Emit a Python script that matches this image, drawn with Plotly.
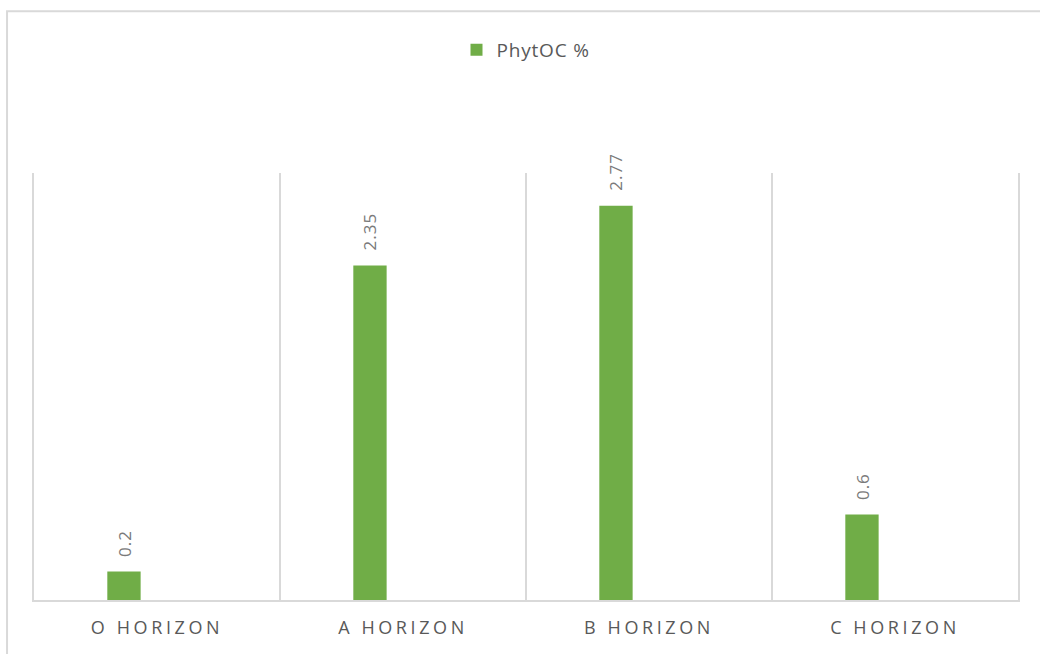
import plotly.graph_objects as go

# Phytolith-occluded carbon by soil horizon
horizons = ["O HORIZON", "A HORIZON", "B HORIZON", "C HORIZON"]
phytoc = [0.2, 2.35, 2.77, 0.6]
series_name = "PhytOC %"

bar_color = "#70ad47"
grid_color = "#d9d9d9"
text_color = "#595959"
label_color = "#7a7a7a"
font_family = "Open Sans, Segoe UI, sans-serif"

# bar placement inside each category slot (category units)
bar_width = 0.1355
bar_offset = -0.202

fig = go.Figure()
fig.add_trace(go.Bar(
    x=horizons,
    y=phytoc,
    name=f'<span style="letter-spacing:0.8px">{series_name}</span>',
    marker=dict(color=bar_color, line=dict(width=0)),
    width=bar_width,
    offset=bar_offset,
    showlegend=True,
))

# rotated value labels above each bar
for i, v in enumerate(phytoc):
    fig.add_annotation(
        x=i + bar_offset + bar_width / 2,
        y=v,
        xref="x", yref="y",
        text=f'<span style="letter-spacing:1px">{v:g}</span>',
        textangle=-90,
        showarrow=False,
        yanchor="bottom",
        xanchor="center",
        yshift=13,
        font=dict(family=font_family, size=17, color=label_color),
    )

# outer chart frame
fig.add_shape(
    type="rect", xref="paper", yref="paper",
    x0=-0.0274, x1=1.2, y0=-0.4, y1=1.379,
    line=dict(color=grid_color, width=2),
    layer="below",
)

spaced = [f'<span style="letter-spacing:3.6px">{h}</span>' for h in horizons]

fig.update_layout(
    width=1040, height=654,
    margin=dict(l=34, r=22, t=173, b=54),
    paper_bgcolor="white",
    plot_bgcolor="white",
    font=dict(family=font_family, color=text_color),
    legend=dict(
        orientation="h",
        x=0.5, xanchor="center",
        y=1.288, yanchor="middle",
        font=dict(size=19, color=text_color),
        itemwidth=30,
    ),
    xaxis=dict(
        type="category",
        tickson="boundaries",
        tickmode="array",
        tickvals=horizons,
        ticktext=spaced,
        showgrid=True,
        gridcolor=grid_color,
        gridwidth=2,
        showline=True,
        linecolor=grid_color,
        linewidth=2,
        ticks="",
        ticklabelstandoff=10,
        tickfont=dict(size=18, color=text_color),
        range=[-0.5, len(horizons) - 0.5],
    ),
    yaxis=dict(
        range=[0, 3],
        showgrid=False,
        zeroline=False,
        showticklabels=False,
        ticks="",
        showline=True,
        mirror=True,
        linecolor=grid_color,
        linewidth=2,
    ),
)

fig.write_html("out.html")
